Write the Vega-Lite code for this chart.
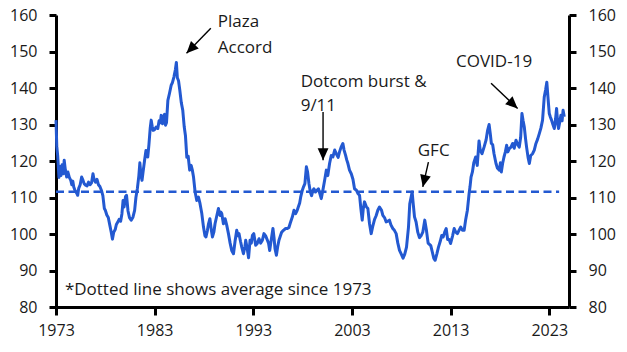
{
"$schema": "https://vega.github.io/schema/vega-lite/v6.json",
"width": 513, "height": 292,
"autosize": {"type": "none"},
"padding": {"left": 56, "top": 15, "right": 58, "bottom": 45},
"background": "white",
"config": {
  "view": {"stroke": null},
  "font": "Open Sans",
  "axis": {"grid": false, "domain": true, "ticks": true, "domainColor": "#000", "domainWidth": 3, "tickColor": "#000", "tickWidth": 3, "labelFont": "Open Sans", "labelFontSize": 16, "labelColor": "#1a1a1a", "title": null}
},
"datasets": {
  "series": [
{"t":1973.0,"v":131.2},{"t":1973.08,"v":124},{"t":1973.17,"v":121.5},{"t":1973.3,"v":115.5},{"t":1973.42,"v":118.5},{"t":1973.5,"v":116},{"t":1973.62,"v":119},{"t":1973.75,"v":116.5},{"t":1973.83,"v":120.2},{"t":1973.95,"v":117.5},
{"t":1974.08,"v":115.6},{"t":1974.2,"v":117},{"t":1974.35,"v":115.5},{"t":1974.5,"v":114.7},{"t":1974.6,"v":113.5},{"t":1974.7,"v":114.5},{"t":1974.8,"v":112.9},{"t":1974.95,"v":111.8},
{"t":1975.1,"v":111.2},{"t":1975.2,"v":110.6},{"t":1975.3,"v":112.5},{"t":1975.45,"v":113.5},{"t":1975.6,"v":115.6},{"t":1975.7,"v":115},{"t":1975.85,"v":113.8},
{"t":1976.0,"v":113.4},{"t":1976.15,"v":113.2},{"t":1976.3,"v":114.2},{"t":1976.45,"v":113.5},{"t":1976.6,"v":114},{"t":1976.75,"v":116.5},{"t":1976.85,"v":115},
{"t":1977.0,"v":114.2},{"t":1977.15,"v":115},{"t":1977.3,"v":113.5},{"t":1977.45,"v":113},{"t":1977.6,"v":112},{"t":1977.75,"v":110.5},{"t":1977.9,"v":107},
{"t":1978.0,"v":106.5},{"t":1978.15,"v":105.2},{"t":1978.3,"v":104.5},{"t":1978.45,"v":102.5},{"t":1978.6,"v":100.5},{"t":1978.72,"v":98.6},{"t":1978.85,"v":100.5},
{"t":1979.0,"v":101.2},{"t":1979.12,"v":102.6},{"t":1979.25,"v":103.2},{"t":1979.4,"v":104},{"t":1979.55,"v":103.5},{"t":1979.68,"v":105.5},{"t":1979.8,"v":109.2},{"t":1979.9,"v":107.4},
{"t":1980.05,"v":110.3},{"t":1980.15,"v":110.6},{"t":1980.3,"v":106.3},{"t":1980.45,"v":104.5},{"t":1980.62,"v":103.8},{"t":1980.8,"v":104.6},{"t":1980.97,"v":106.5},
{"t":1981.1,"v":110},{"t":1981.25,"v":112.5},{"t":1981.4,"v":116},{"t":1981.5,"v":119.5},{"t":1981.62,"v":116},{"t":1981.72,"v":114.7},{"t":1981.85,"v":117.5},{"t":1981.98,"v":120.2},
{"t":1982.12,"v":122.9},{"t":1982.3,"v":121.1},{"t":1982.42,"v":124.5},{"t":1982.55,"v":129},{"t":1982.65,"v":131.2},{"t":1982.75,"v":129.5},{"t":1982.85,"v":128.4},
{"t":1983.0,"v":128.6},{"t":1983.15,"v":129.3},{"t":1983.32,"v":128.9},{"t":1983.45,"v":131},{"t":1983.58,"v":130.5},{"t":1983.66,"v":132.5},{"t":1983.8,"v":130.2},{"t":1983.92,"v":132.3},
{"t":1984.0,"v":132.8},{"t":1984.1,"v":129.8},{"t":1984.2,"v":130.5},{"t":1984.34,"v":136.6},{"t":1984.5,"v":138.5},{"t":1984.67,"v":140.7},{"t":1984.8,"v":141.5},{"t":1984.95,"v":143},
{"t":1985.1,"v":145},{"t":1985.2,"v":147},{"t":1985.3,"v":142.8},{"t":1985.42,"v":142},{"t":1985.55,"v":139.4},{"t":1985.7,"v":136},{"t":1985.85,"v":133.9},
{"t":1986.0,"v":129.3},{"t":1986.12,"v":127},{"t":1986.26,"v":121},{"t":1986.4,"v":121.3},{"t":1986.55,"v":117.5},{"t":1986.7,"v":118.8},{"t":1986.82,"v":117.5},{"t":1986.94,"v":115.6},
{"t":1987.1,"v":111.5},{"t":1987.27,"v":109.2},{"t":1987.44,"v":110.1},{"t":1987.6,"v":108.3},{"t":1987.78,"v":105.6},{"t":1987.95,"v":101.9},
{"t":1988.1,"v":99.5},{"t":1988.2,"v":99.2},{"t":1988.35,"v":101},{"t":1988.46,"v":102.8},{"t":1988.6,"v":104.2},{"t":1988.75,"v":101},{"t":1988.86,"v":99.2},
{"t":1989.0,"v":100.5},{"t":1989.12,"v":102.8},{"t":1989.3,"v":105},{"t":1989.47,"v":107},{"t":1989.55,"v":105.5},{"t":1989.63,"v":105.1},{"t":1989.72,"v":106},{"t":1989.8,"v":105.6},{"t":1989.97,"v":102.8},
{"t":1990.14,"v":104.2},{"t":1990.3,"v":102.5},{"t":1990.48,"v":100.1},{"t":1990.65,"v":97.5},{"t":1990.81,"v":95.5},{"t":1990.99,"v":94.6},
{"t":1991.15,"v":98},{"t":1991.32,"v":101},{"t":1991.45,"v":99.5},{"t":1991.55,"v":100.1},{"t":1991.7,"v":98},{"t":1991.83,"v":96.4},
{"t":1992.0,"v":94.6},{"t":1992.15,"v":96.5},{"t":1992.23,"v":98.3},{"t":1992.38,"v":96},{"t":1992.52,"v":93.5},{"t":1992.67,"v":98.3},{"t":1992.8,"v":97.5},{"t":1992.91,"v":99.6},
{"t":1993.05,"v":100.1},{"t":1993.24,"v":96.9},{"t":1993.4,"v":97.4},{"t":1993.58,"v":98.7},{"t":1993.75,"v":97.5},{"t":1993.92,"v":98.3},
{"t":1994.08,"v":100.1},{"t":1994.25,"v":99.5},{"t":1994.43,"v":98.3},{"t":1994.55,"v":97.4},{"t":1994.66,"v":95.5},{"t":1994.85,"v":99},{"t":1994.99,"v":101.5},
{"t":1995.1,"v":99},{"t":1995.2,"v":96},{"t":1995.34,"v":94.2},{"t":1995.47,"v":96.5},{"t":1995.6,"v":98.3},{"t":1995.75,"v":99.5},{"t":1995.87,"v":100.5},
{"t":1996.05,"v":101},{"t":1996.28,"v":101.5},{"t":1996.45,"v":101.5},{"t":1996.61,"v":101.8},{"t":1996.75,"v":103},{"t":1996.96,"v":104.7},
{"t":1997.12,"v":106.5},{"t":1997.29,"v":105.6},{"t":1997.45,"v":106.5},{"t":1997.56,"v":107.4},{"t":1997.7,"v":108.5},{"t":1997.8,"v":110.1},{"t":1997.97,"v":112},
{"t":1998.1,"v":113},{"t":1998.23,"v":113.8},{"t":1998.38,"v":118.4},{"t":1998.5,"v":117},{"t":1998.64,"v":113.8},{"t":1998.78,"v":111.5},{"t":1998.91,"v":110.5},
{"t":1999.05,"v":112},{"t":1999.14,"v":112.4},{"t":1999.3,"v":111.5},{"t":1999.45,"v":112},{"t":1999.6,"v":112.4},{"t":1999.75,"v":111},{"t":1999.89,"v":109.7},
{"t":2000.05,"v":112},{"t":2000.23,"v":114.7},{"t":2000.4,"v":117.5},{"t":2000.55,"v":116},{"t":2000.73,"v":119.3},{"t":2000.9,"v":121.5},
{"t":2001.07,"v":121.1},{"t":2001.25,"v":123},{"t":2001.41,"v":122},{"t":2001.6,"v":121},{"t":2001.74,"v":122.5},{"t":2001.9,"v":123.8},
{"t":2002.08,"v":124.8},{"t":2002.2,"v":123},{"t":2002.35,"v":121.6},{"t":2002.47,"v":120.3},{"t":2002.59,"v":119.3},{"t":2002.75,"v":117.5},{"t":2002.93,"v":116.5},
{"t":2003.1,"v":115},{"t":2003.26,"v":112.4},{"t":2003.45,"v":112},{"t":2003.6,"v":111.1},{"t":2003.77,"v":110.6},{"t":2003.9,"v":107},
{"t":2004.04,"v":103.8},{"t":2004.15,"v":107},{"t":2004.27,"v":108.8},{"t":2004.45,"v":107.5},{"t":2004.61,"v":107},{"t":2004.78,"v":102.8},{"t":2004.95,"v":100.1},
{"t":2005.1,"v":102},{"t":2005.29,"v":104},{"t":2005.45,"v":105},{"t":2005.62,"v":106.5},{"t":2005.79,"v":107.4},
{"t":2006.0,"v":106.5},{"t":2006.13,"v":105.1},{"t":2006.3,"v":104.5},{"t":2006.47,"v":103.3},{"t":2006.65,"v":103.5},{"t":2006.8,"v":103.8},{"t":2006.95,"v":102.5},
{"t":2007.14,"v":101.5},{"t":2007.3,"v":101},{"t":2007.48,"v":100.1},{"t":2007.65,"v":97.5},{"t":2007.82,"v":95.5},
{"t":2008.0,"v":94.5},{"t":2008.18,"v":93.4},{"t":2008.35,"v":94.5},{"t":2008.53,"v":96.4},{"t":2008.73,"v":101.9},{"t":2008.86,"v":108.3},
{"t":2009.1,"v":111.5},{"t":2009.22,"v":108},{"t":2009.34,"v":104.7},{"t":2009.5,"v":103.3},{"t":2009.67,"v":100.5},{"t":2009.84,"v":99},
{"t":2010.0,"v":99.5},{"t":2010.18,"v":100.5},{"t":2010.38,"v":103.8},{"t":2010.55,"v":101},{"t":2010.72,"v":97.5},{"t":2010.99,"v":96.8},
{"t":2011.15,"v":95},{"t":2011.3,"v":93.3},{"t":2011.43,"v":92.8},{"t":2011.6,"v":94.5},{"t":2011.77,"v":96.4},{"t":2011.95,"v":98},
{"t":2012.1,"v":99.6},{"t":2012.25,"v":99.2},{"t":2012.4,"v":100.5},{"t":2012.55,"v":101.5},{"t":2012.7,"v":98.5},{"t":2012.85,"v":98.5},
{"t":2013.0,"v":97.4},{"t":2013.2,"v":99.5},{"t":2013.36,"v":101.5},{"t":2013.52,"v":100.5},{"t":2013.69,"v":100.1},{"t":2013.85,"v":101},
{"t":2014.02,"v":101.9},{"t":2014.2,"v":101},{"t":2014.37,"v":101},{"t":2014.53,"v":104},{"t":2014.7,"v":106.5},{"t":2014.87,"v":111},{"t":2014.97,"v":113},
{"t":2015.07,"v":115.6},{"t":2015.21,"v":117},{"t":2015.35,"v":119.5},{"t":2015.54,"v":121.1},{"t":2015.7,"v":118.8},{"t":2015.88,"v":125.5},
{"t":2016.0,"v":123},{"t":2016.18,"v":122},{"t":2016.39,"v":123.8},{"t":2016.59,"v":125.7},{"t":2016.75,"v":128.4},{"t":2016.9,"v":130},
{"t":2017.02,"v":127.5},{"t":2017.13,"v":124.8},{"t":2017.26,"v":124.5},{"t":2017.4,"v":122},{"t":2017.6,"v":119.3},{"t":2017.75,"v":118},{"t":2017.94,"v":117.5},
{"t":2018.05,"v":119.5},{"t":2018.14,"v":117},{"t":2018.27,"v":119.3},{"t":2018.41,"v":121.1},{"t":2018.55,"v":122.5},{"t":2018.68,"v":124.3},{"t":2018.8,"v":122.5},{"t":2018.95,"v":123.4},
{"t":2019.12,"v":123.8},{"t":2019.29,"v":124.8},{"t":2019.45,"v":123.5},{"t":2019.63,"v":125.7},{"t":2019.8,"v":124.5},{"t":2019.96,"v":123.8},
{"t":2020.1,"v":126.5},{"t":2020.23,"v":133},{"t":2020.35,"v":131},{"t":2020.47,"v":129.3},{"t":2020.6,"v":126},{"t":2020.7,"v":123.8},{"t":2020.85,"v":121},{"t":2020.98,"v":119.3},
{"t":2021.12,"v":121.5},{"t":2021.31,"v":122},{"t":2021.48,"v":123},{"t":2021.65,"v":124.8},{"t":2021.82,"v":126},{"t":2021.99,"v":127.5},
{"t":2022.15,"v":129},{"t":2022.32,"v":131.2},{"t":2022.49,"v":137.5},{"t":2022.63,"v":139.5},{"t":2022.75,"v":141.6},{"t":2022.88,"v":137},
{"t":2023.0,"v":133},{"t":2023.12,"v":132},{"t":2023.23,"v":131.2},{"t":2023.37,"v":130},{"t":2023.51,"v":128.9},{"t":2023.64,"v":131.5},{"t":2023.74,"v":134.4},{"t":2023.85,"v":130.5},{"t":2023.94,"v":128.9},
{"t":2024.05,"v":130.5},{"t":2024.18,"v":132.5},{"t":2024.3,"v":131},{"t":2024.4,"v":133.9},{"t":2024.52,"v":132.1}
  ],
  "arrows": [
    {"k": "Plaza", "x1": 1988.69, "y1": 156.4, "x2": 1986.23, "y2": 149.5},
    {"k": "Dotcom", "x1": 2000.07, "y1": 133.4, "x2": 2000.07, "y2": 120.2},
    {"k": "GFC", "x1": 2010.75, "y1": 119.7, "x2": 2010.18, "y2": 112.9},
    {"k": "COVID", "x1": 2017.1, "y1": 141.3, "x2": 2019.79, "y2": 134.4}
  ],
  "labels": [
    {"t": 1989.4, "v": 156.6, "txt": "Plaza"},
    {"t": 1989.4, "v": 149.5, "txt": "Accord"},
    {"t": 1997.8, "v": 140.3, "txt": "Dotcom burst &"},
    {"t": 1997.8, "v": 133.8, "txt": "9/11"},
    {"t": 2009.67, "v": 121.5, "txt": "GFC"},
    {"t": 2013.55, "v": 145.8, "txt": "COVID-19"},
    {"t": 1973.9, "v": 83.2, "txt": "*Dotted line shows average since 1973"}
  ]
},
"layer": [
  {
    "data": {"name": "series"},
    "mark": {"type": "line", "color": "#2359d1", "strokeWidth": 3, "strokeJoin": "round"},
    "encoding": {
      "x": {"field": "t", "type": "quantitative", "scale": {"domain": [1973, 2025], "nice": false, "zero": false},
            "axis": {"orient": "bottom", "values": [1973, 1983, 1993, 2003, 2013, 2023], "format": "d", "tickSize": 8, "labelPadding": 7, "labelFlush": false, "labelOverlap": false, "domain": true, "ticks": true}},
      "y": {"field": "v", "type": "quantitative", "scale": {"domain": [80, 160], "nice": false, "zero": false},
            "axis": {"orient": "left", "values": [80, 90, 100, 110, 120, 130, 140, 150, 160], "tickSize": 7, "labelPadding": 12, "labelOverlap": false, "labelFlush": false, "domain": true, "ticks": true}}
    }
  },
  {
    "data": {"values": [{"a": 1973, "b": 2024.0, "avg": 111.6}]},
    "mark": {"type": "rule", "color": "#2359d1", "strokeWidth": 2.5, "strokeDash": [8, 4.5]},
    "encoding": {
      "x": {"field": "a", "type": "quantitative", "axis": null},
      "x2": {"field": "b"},
      "y": {"field": "avg", "type": "quantitative",
            "axis": {"orient": "right", "values": [80, 90, 100, 110, 120, 130, 140, 150, 160], "tickSize": 7, "labelPadding": 12, "labelOverlap": false, "labelFlush": false}}
    }
  },
  {
    "data": {"name": "arrows"},
    "mark": {"type": "rule", "color": "#000", "strokeWidth": 1.4},
    "encoding": {
      "x": {"field": "x1", "type": "quantitative", "axis": null},
      "y": {"field": "y1", "type": "quantitative", "axis": null},
      "x2": {"field": "x2"},
      "y2": {"field": "y2"}
    }
  },
  {
    "data": {"name": "arrows"},
    "transform": [{"filter": "datum.k == 'Plaza'"}],
    "mark": {"type": "point", "shape": "M0,0L0.45,1L-0.45,1Z", "filled": true, "color": "#000", "opacity": 1, "size": 576, "angle": 224},
    "encoding": {"x": {"field": "x2", "type": "quantitative", "axis": null}, "y": {"field": "y2", "type": "quantitative", "axis": null}}
  },
  {
    "data": {"name": "arrows"},
    "transform": [{"filter": "datum.k == 'Dotcom'"}],
    "mark": {"type": "point", "shape": "M0,0L0.45,1L-0.45,1Z", "filled": true, "color": "#000", "opacity": 1, "size": 576, "angle": 180},
    "encoding": {"x": {"field": "x2", "type": "quantitative", "axis": null}, "y": {"field": "y2", "type": "quantitative", "axis": null}}
  },
  {
    "data": {"name": "arrows"},
    "transform": [{"filter": "datum.k == 'GFC'"}],
    "mark": {"type": "point", "shape": "M0,0L0.45,1L-0.45,1Z", "filled": true, "color": "#000", "opacity": 1, "size": 576, "angle": 193},
    "encoding": {"x": {"field": "x2", "type": "quantitative", "axis": null}, "y": {"field": "y2", "type": "quantitative", "axis": null}}
  },
  {
    "data": {"name": "arrows"},
    "transform": [{"filter": "datum.k == 'COVID'"}],
    "mark": {"type": "point", "shape": "M0,0L0.45,1L-0.45,1Z", "filled": true, "color": "#000", "opacity": 1, "size": 576, "angle": 133},
    "encoding": {"x": {"field": "x2", "type": "quantitative", "axis": null}, "y": {"field": "y2", "type": "quantitative", "axis": null}}
  },
  {
    "data": {"name": "labels"},
    "mark": {"type": "text", "align": "left", "baseline": "alphabetic", "font": "Open Sans", "fontSize": 17, "color": "#1a1a1a"},
    "encoding": {
      "x": {"field": "t", "type": "quantitative", "axis": null},
      "y": {"field": "v", "type": "quantitative", "axis": null},
      "text": {"field": "txt"}
    }
  }
],
"resolve": {"axis": {"x": "independent", "y": "independent"}}
}
